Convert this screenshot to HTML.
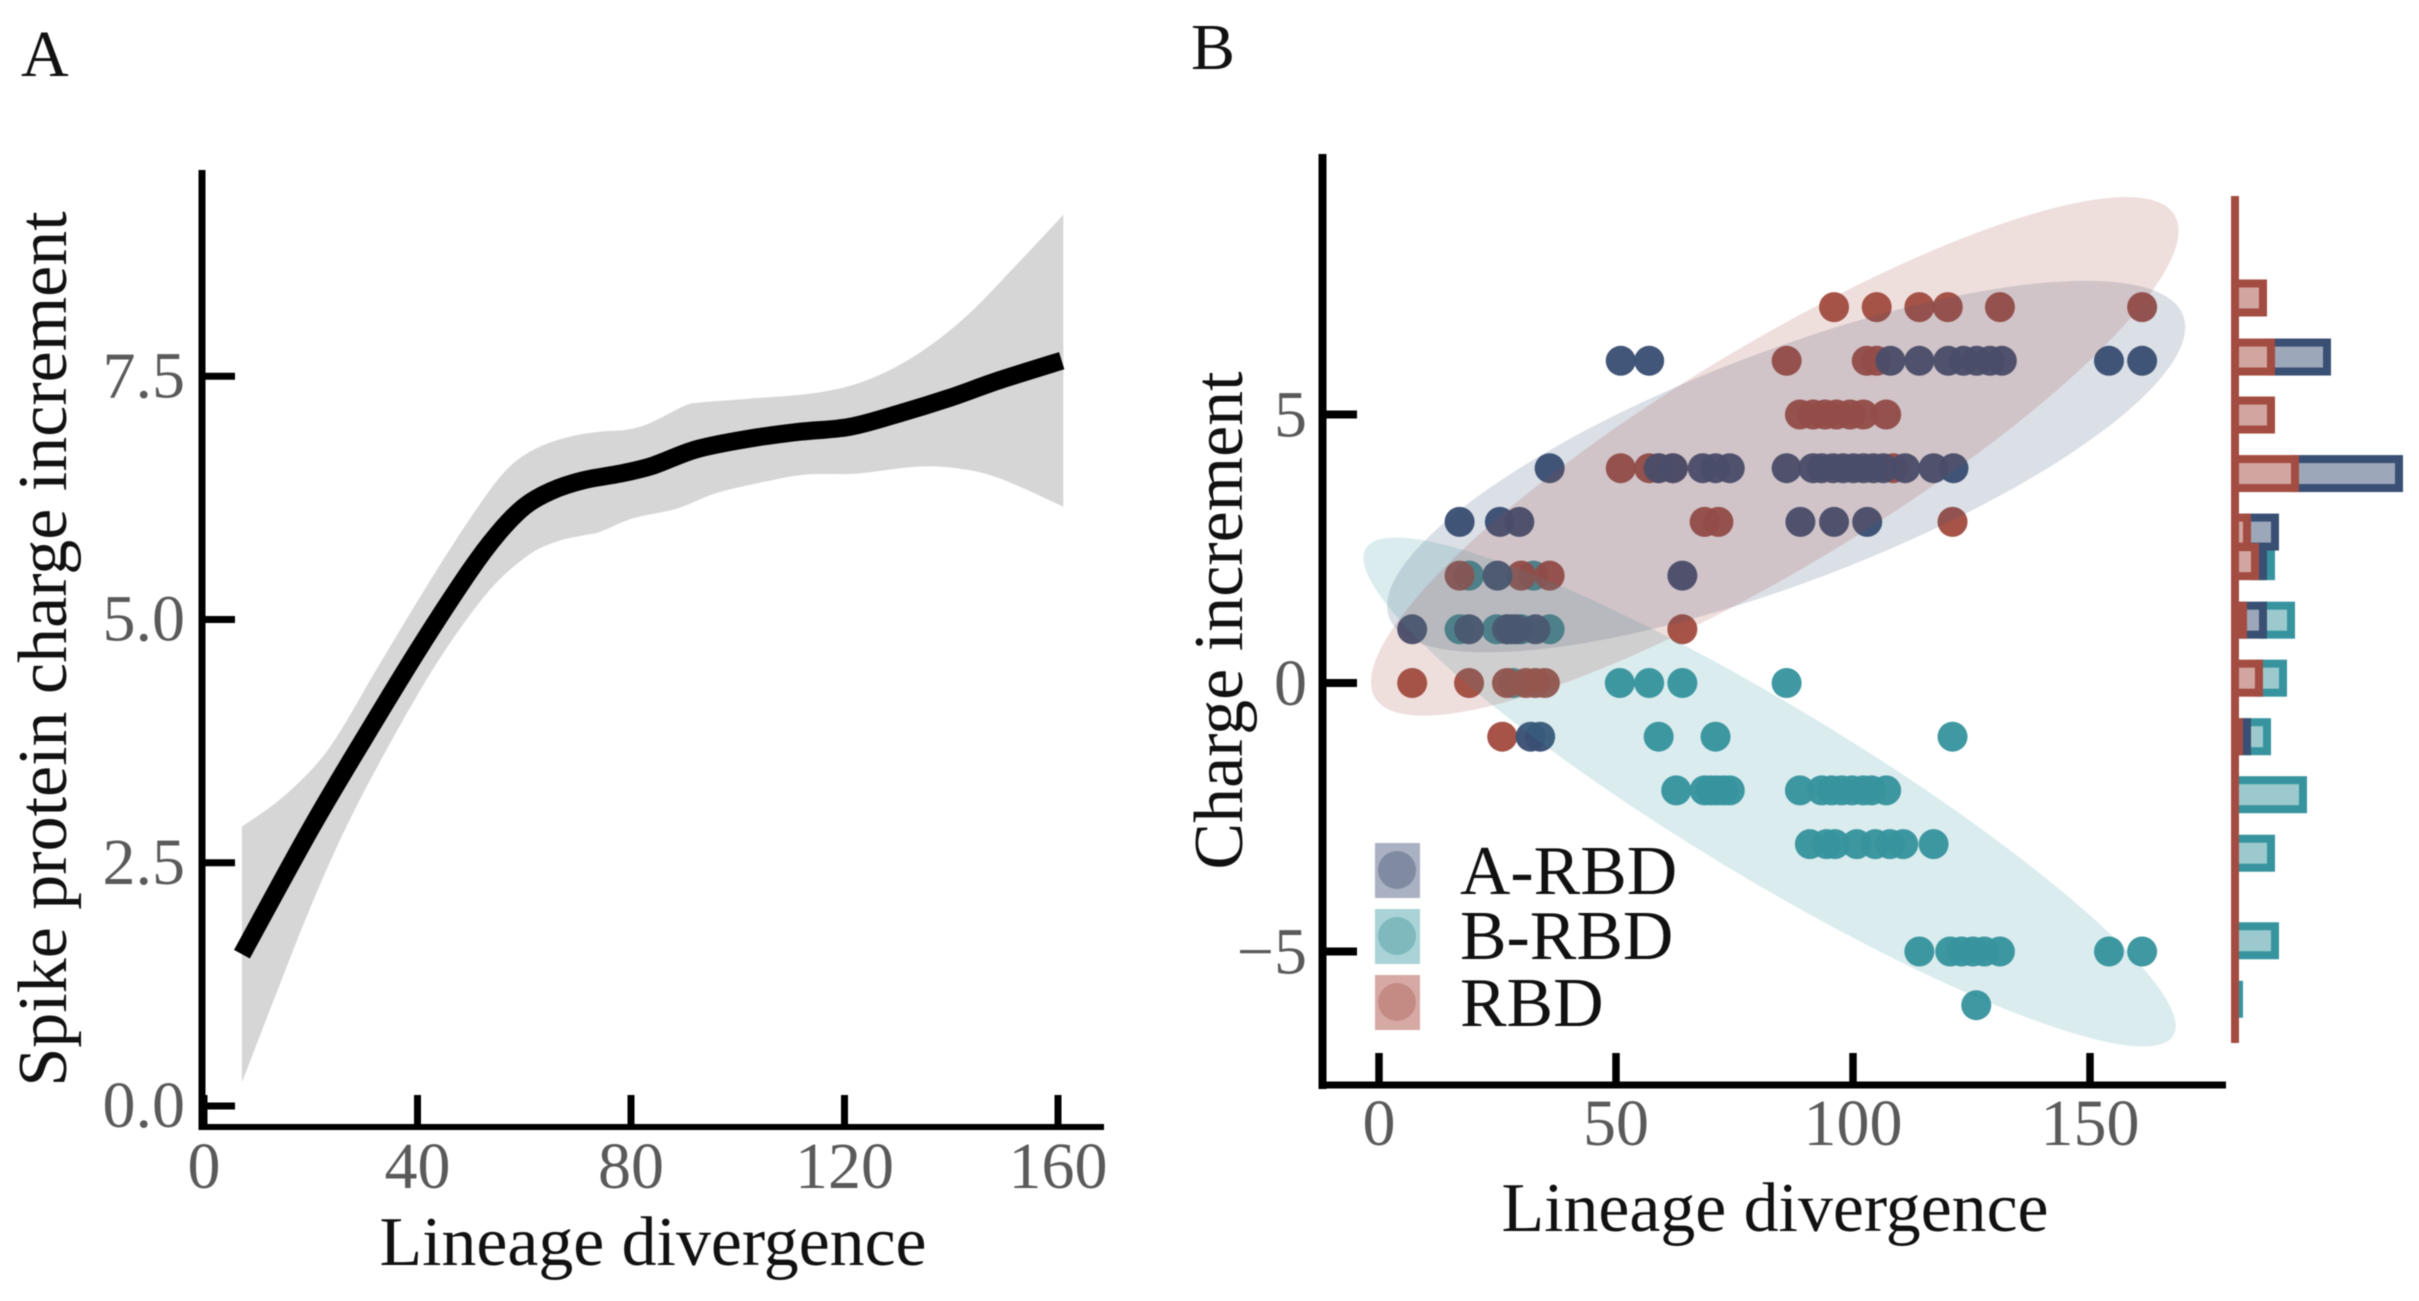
<!DOCTYPE html>
<html lang="en">
<head>
<meta charset="utf-8">
<title>Spike protein charge increment vs lineage divergence</title>
<style>
html,body{margin:0;padding:0;background:#fff;}
svg{display:block;filter:blur(.6px);}
text{font-family:"Liberation Serif",serif;}
</style>
</head>
<body>
<svg id="figure" xmlns="http://www.w3.org/2000/svg" width="2419" height="1301" viewBox="0 0 2419 1301">
  <rect width="2419" height="1301" fill="#fff"/>
  <text x="21" y="76" font-size="66" fill="#111">A</text>
  <text x="1191" y="69" font-size="66" fill="#111">B</text>
  <g id="panelA"></g>
  <g id="panelB"></g>
  <text x="653" y="1265" font-size="69.8" text-anchor="middle" fill="#111">Lineage divergence</text>
  <text transform="translate(66 649) rotate(-90)" font-size="70" text-anchor="middle" fill="#111">Spike protein charge increment</text>
  <text x="1775" y="1231" font-size="69.8" text-anchor="middle" fill="#111">Lineage divergence</text>
  <text transform="translate(1242 620.5) rotate(-90)" font-size="70" text-anchor="middle" fill="#111">Charge increment</text>
  <g>
    <g>
      <rect x="1375" y="843" width="45" height="55" fill="#a9b1c3"/>
      <circle cx="1397" cy="870" r="19" fill="#808aa0"/>
      <text x="1460" y="894" font-size="69.8" fill="#111">A-RBD</text>
    </g>
    <g>
      <rect x="1375" y="909" width="45" height="55" fill="#a9d3d6"/>
      <circle cx="1397" cy="936" r="19" fill="#7fb9bd"/>
      <text x="1460" y="959" font-size="69.8" fill="#111">B-RBD</text>
    </g>
    <g>
      <rect x="1375" y="975" width="45" height="55" fill="#d7a9a5"/>
      <circle cx="1397" cy="1002" r="19" fill="#c38b84"/>
      <text x="1460" y="1026" font-size="69.8" fill="#111">RBD</text>
    </g>
  </g>
</svg>
<script>
/* ---------- Panel A data ---------- */
const aTickX = [0, 40, 80, 120, 160];
const aTickY = [0, 2.5, 5, 7.5];
const aTickYLabels = ["0.0", "2.5", "5.0", "7.5"];
const lineDivergence = [7.1, 19.9, 29.8, 40.5, 49.8, 55, 60, 65, 71, 78, 84, 92.3, 102.3, 111.7, 121, 130.4, 139.8, 149.1, 160.7];
const lineCharge = [1.56, 2.84, 3.76, 4.72, 5.50, 5.88, 6.16, 6.32, 6.43, 6.50, 6.58, 6.75, 6.86, 6.93, 6.98, 7.12, 7.28, 7.46, 7.66];
const upperDivergence = [7.1, 15.5, 23.6, 33, 41.7, 50.5, 56.7, 62.3, 68.6, 74.2, 79.2, 83.6, 89.8, 92.9, 102.3, 114.8, 124.2, 133.5, 142.9, 152.3, 161];
const upperCharge = [2.87, 3.21, 3.69, 4.55, 5.34, 6.09, 6.54, 6.76, 6.88, 6.93, 6.95, 7.02, 7.19, 7.23, 7.27, 7.33, 7.46, 7.72, 8.12, 8.65, 9.16];
const lowerDivergence = [7.1, 14, 20, 26.4, 34.2, 43.6, 53, 60.5, 66, 71.7, 74.2, 80.4, 88.6, 96, 105.4, 112.9, 122.3, 133.5, 141.6, 149.1, 161];
const lowerCharge = [0.24, 1.22, 2.05, 2.84, 3.66, 4.55, 5.27, 5.65, 5.80, 5.87, 5.90, 6.04, 6.14, 6.30, 6.42, 6.49, 6.50, 6.57, 6.55, 6.45, 6.16];

/* ---------- Panel B data ---------- */
const bTickX = [0, 50, 100, 150];
const bTickY = [-5, 0, 5];
const bTickYLabels = ["\u22125", "0", "5"];
const aRbdX = [51,57,107.9,114,120.1,123.3,126.1,128.9,131.4,154,161, 36,59,62,68.3,71,74,86,91.6,93.4,95.8,97.9,100.1,102.2,104.3,106.4,111,117,121.2, 17,25.5,29.6,88.9,96,103, 25,64, 7,19,27,28,29,33, 32,34];
const aRbdY = [6,6,6,6,6,6,6,6,6,6,6, 4,4,4,4,4,4,4,4,4,4,4,4,4,4,4,4,4,4, 3,3,3,3,3,3, 2,2, 1,1,1,1,1,1, -1,-1];
const bRbdX = [19,32.6, 17,24.8,27,30,36, 28.3,50.8,57,64,86, 59,71,121, 62.7,68.7,70,71.2,72.6,74,88.8,93.4,95.5,97.6,99.8,102.2,103.9,107, 90.9,94.4,96.2,100.8,104.7,107.8,110.6,117, 114,120.5,122.9,125.3,127.7,131,154,161, 126];
const bRbdY = [2,2, 1,1,1,1,1, 0,0,0,0,0, -1,-1,-1, -2,-2,-2,-2,-2,-2,-2,-2,-2,-2,-2,-2,-2,-2, -3,-3,-3,-3,-3,-3,-3,-3, -5,-5,-5,-5,-5,-5,-5,-5, -6];
const rbdX = [96,105,114,120,131,161, 86,102.9,105, 88.8,91.6,94.1,96.5,99.4,102.2,107, 51,57,59,62,108.5, 68.7,71.6,121, 17,30,36, 64, 7,19,27,31,33,35, 26];
const rbdY = [7,7,7,7,7,7, 6,6,6, 5,5,5,5,5,5,5, 4,4,4,4,4, 3,3,3, 2,2,2, 1, 0,0,0,0,0,0, -1];

const ellipseCenterX = [85.9, 82.4, 83.5];
const ellipseCenterY = [4.03, -2.03, 4.22];
const ellipseSpreadX = [84.2, 85.7, 85.2];
const ellipseSpreadY = [3.46, 4.74, 4.83];
const ellipseCorrelation = [0.75, -0.92, 0.87];

const histBins = [7.17, 6.07, 4.99, 3.90, 2.81, 2.26, 1.17, 0.09, -1, -2.08, -3.17, -4.8, -5.89];
const histRbd = [7, 9, 9, 15, 3, 5, 2, 6, 1, 0, 0, 0, 0];
const histARbd = [0, 14, 0, 26, 7, 2, 5, 0, 2, 0, 0, 0, 0];
const histBRbd = [0, 0, 0, 0, 0, 2, 7, 6, 5, 17, 9, 10, 1];

/* ---------- helpers ---------- */
const NS = "http://www.w3.org/2000/svg";
function mk(tag, parent, attrs) {
  const el = document.createElementNS(NS, tag);
  for (const k in attrs) el.setAttribute(k, attrs[k]);
  parent.appendChild(el);
  return el;
}
function smooth(pts) {
  let d = "M" + pts[0][0].toFixed(1) + " " + pts[0][1].toFixed(1);
  for (let i = 0; i < pts.length - 1; i++) {
    const p0 = pts[Math.max(i - 1, 0)], p1 = pts[i], p2 = pts[i + 1], p3 = pts[Math.min(i + 2, pts.length - 1)];
    const c1x = p1[0] + (p2[0] - p0[0]) / 6, c1y = p1[1] + (p2[1] - p0[1]) / 6;
    const c2x = p2[0] - (p3[0] - p1[0]) / 6, c2y = p2[1] - (p3[1] - p1[1]) / 6;
    d += "C" + c1x.toFixed(1) + " " + c1y.toFixed(1) + " " + c2x.toFixed(1) + " " + c2y.toFixed(1) + " " + p2[0].toFixed(1) + " " + p2[1].toFixed(1);
  }
  return d;
}
const TICK_COLOR = "#5a5a5a";
const NAVY = "#394f73", TEAL = "#37949e", RED = "#a34c41";

/* ---------- Panel A ---------- */
const panelA = document.getElementById("panelA");
const ax = v => 204 + v * 5.3375;
const ay = v => 1106 - v * 97.3;

const upperPts = upperDivergence.map((v, i) => [ax(v), ay(upperCharge[i])]);
const lowerPts = lowerDivergence.map((v, i) => [ax(v), ay(lowerCharge[i])]).reverse();
const bandPath = smooth(upperPts) + "L" + smooth(lowerPts).slice(1) + "Z";
const band = mk("path", panelA, { d: bandPath, fill: "#d6d6d6" });



const trend = mk("path", panelA, { d: smooth(lineDivergence.map((v, i) => [ax(v), ay(lineCharge[i])])), fill: "none", stroke: "#000", "stroke-width": 18 });



const aYAxis = mk("rect", panelA, { x: 198.5, y: 170, width: 7, height: 960, fill: "#000" });


const aXAxis = mk("rect", panelA, { x: 198.5, y: 1124, width: 905.5, height: 6, fill: "#000" });



aTickX.forEach(v => {
  const t = mk("rect", panelA, { x: ax(v) - 3.5, y: 1095, width: 7, height: 32, fill: "#000" });
  
  
  const l = mk("text", panelA, { x: ax(v), y: 1188, "font-size": 66, "text-anchor": "middle", fill: TICK_COLOR });
  l.textContent = String(v);
  
  
});
aTickY.forEach((v, i) => {
  const t = mk("rect", panelA, { x: 202, y: ay(v) - 3.5, width: 33, height: 7, fill: "#000" });
  
  
  const l = mk("text", panelA, { x: 185, y: ay(v) + 21, "font-size": 66, "text-anchor": "end", fill: TICK_COLOR });
  l.textContent = aTickYLabels[i];
  
  
});

/* ---------- Panel B ---------- */
const panelB = document.getElementById("panelB");
const bx = v => 1379 + v * 4.74;
const by = v => 683 - v * 53.7;

function drawDots(xs, ys, color, cls) {
  const g = mk("g", panelB, {});
  
  
  xs.forEach((v, i) => {
    const c = mk("circle", g, { cx: bx(v), cy: by(ys[i]), r: 15, fill: color, "fill-opacity": 0.96 });
    
    
  });
}
drawDots(bRbdX, bRbdY, TEAL, 'b-rbd');
drawDots(rbdX, rbdY, RED, 'rbd');
drawDots(aRbdX, aRbdY, NAVY, 'a-rbd');

const ellipseColors = [NAVY, TEAL, RED];
const ellipseNames = ['a-rbd', 'b-rbd', 'rbd'];
ellipseCenterX.forEach((cx, i) => {
  const cy = ellipseCenterY[i], rx = ellipseSpreadX[i], ry = ellipseSpreadY[i], rho = ellipseCorrelation[i];
  const s = Math.sqrt(1 - rho * rho);
  let d = "";
  for (let k = 0; k < 120; k++) {
    const t = k / 120 * 2 * Math.PI;
    const x = cx + rx * Math.cos(t);
    const y = cy + ry * (rho * Math.cos(t) + s * Math.sin(t));
    d += (k ? "L" : "M") + bx(x).toFixed(1) + " " + by(y).toFixed(1);
  }
  const e = mk("path", panelB, { d: d + "Z", fill: ellipseColors[i], "fill-opacity": 0.18 });
  
  
});

const bYAxis = mk("rect", panelB, { x: 1318.5, y: 154, width: 8, height: 935, fill: "#000" });


const bXAxis = mk("rect", panelB, { x: 1318.5, y: 1081.5, width: 907.5, height: 7, fill: "#000" });



bTickX.forEach(v => {
  const t = mk("rect", panelB, { x: bx(v) - 3.75, y: 1053, width: 7.5, height: 30, fill: "#000" });
  
  
  const l = mk("text", panelB, { x: bx(v), y: 1145, "font-size": 66, "text-anchor": "middle", fill: TICK_COLOR });
  l.textContent = String(v);
  
  
});
bTickY.forEach((v, i) => {
  const t = mk("rect", panelB, { x: 1322, y: by(v) - 4, width: 35, height: 8, fill: "#000" });
  
  
  const l = mk("text", panelB, { x: 1307, y: by(v) + 22, "font-size": 66, "text-anchor": "end", fill: TICK_COLOR });
  l.textContent = bTickYLabels[i];
  
  
});

/* Marginal stacked histogram */
const hx = c => 2235 + c * 4;
const HIST_BAR_DATA_HEIGHT = 0.54;
const histGroup = mk("g", panelB, {});


function drawHist(counts, startOf, color, cls) {
  counts.forEach((c, i) => {
    if (!c) return;
    const start = startOf(i);
    const top = by(histBins[i] + HIST_BAR_DATA_HEIGHT / 2);
    const h = by(histBins[i] - HIST_BAR_DATA_HEIGHT / 2) - top;
    const r = mk("rect", histGroup, { x: hx(start), y: top, width: hx(start + c) - hx(start), height: h, fill: color, "fill-opacity": 0.5, stroke: color, "stroke-width": 8 });
    
    
  });
}
drawHist(histBRbd, i => histRbd[i] + histARbd[i], TEAL, 'b-rbd');
drawHist(histARbd, i => histRbd[i], NAVY, 'a-rbd');
drawHist(histRbd, i => 0, RED, 'rbd');
const histAxis = mk("rect", panelB, { x: 2231, y: 196, width: 8, height: 847, fill: RED });


</script>
</body>
</html>
